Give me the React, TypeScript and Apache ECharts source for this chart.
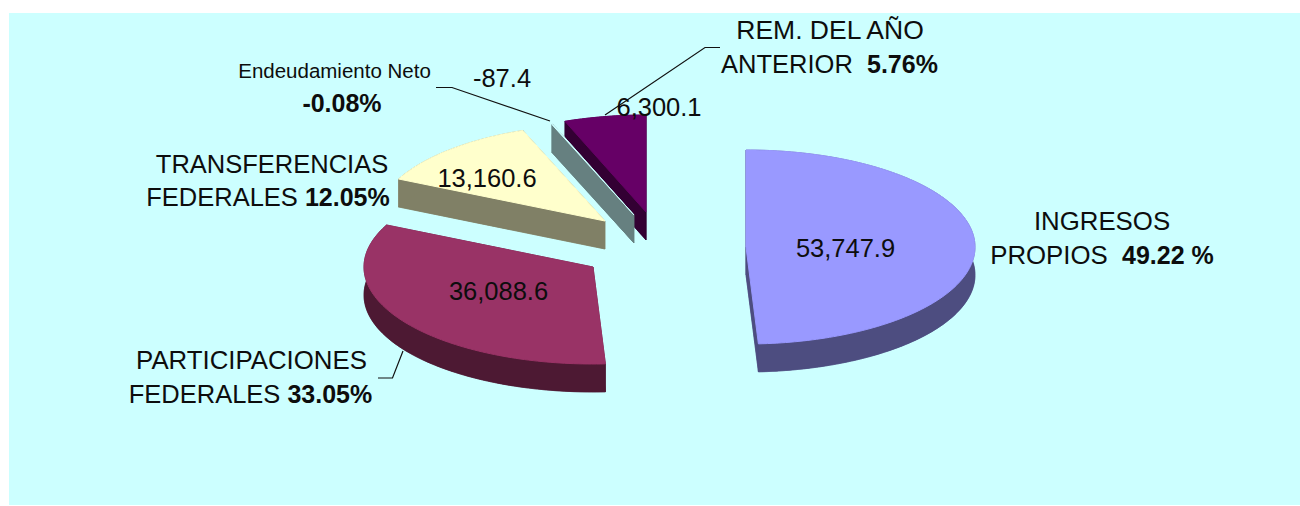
import React, { useEffect, useRef } from "react";
import * as echarts from "echarts";

// ---- data (clockwise from 12 o'clock) ----
const sliceNames = ["INGRESOS PROPIOS", "PARTICIPACIONES FEDERALES", "TRANSFERENCIAS FEDERALES", "Endeudamiento Neto", "REM. DEL AÑO ANTERIOR"];
const sliceValues = [53747.9, 36088.6, 13160.6, -87.4, 6300.1];
const slicePercents = ["49.22 %", "33.05%", "12.05%", "-0.08%", "5.76%"];

// ---- styles and layout ----
const topColors = ["#9999FF", "#993366", "#FFFFCC", "#CCFFFF", "#660066"];
const sideColors = ["#4D4D80", "#4D1933", "#808066", "#668080", "#330033"];
const apexes = [[746, 247], [593, 267], [605, 221], [634, 215], [646, 212]];
const RX = 229, RY = 97, DEPTH = 28;
const drawOrder = [4, 3, 2, 1, 0];
const FONT = "'Liberation Sans', Arial, sans-serif";
const valuePositions = [[845.5, 248], [498.5, 291], [487, 178], [502, 78], [659, 107]];
const leaders = [
  [[605, 115], [705, 47.5], [720, 47.5]],
  [[403, 351], [392.5, 378], [378, 378]],
  [[436, 87.5], [452, 87.5], [550, 121]],
];

function fmt(v: number) {
  return v.toLocaleString("en-US", { minimumFractionDigits: 1, maximumFractionDigits: 1 });
}

function sliceGeometry(i: number) {
  const total = sliceValues.reduce((s, v) => s + Math.abs(v), 0);
  let before = 0;
  for (let k = 0; k < i; k++) before += Math.abs(sliceValues[k]);
  const a0 = (before / total) * Math.PI * 2;
  const a1 = ((before + Math.abs(sliceValues[i])) / total) * Math.PI * 2;
  const [cx, cy] = apexes[i];
  const steps = Math.max(2, Math.ceil((a1 - a0) / 0.02));
  const arc: number[][] = [];
  for (let s = 0; s <= steps; s++) {
    const a = a0 + ((a1 - a0) * s) / steps;
    arc.push([cx + RX * Math.sin(a), cy - RY * Math.cos(a)]);
  }
  return { arc, apex: [cx, cy] };
}

const down = (p: number[]) => [p[0], p[1] + DEPTH];

function renderSlice(_: any, api: any) {
  const i = api.value(0) as number;
  const { arc, apex } = sliceGeometry(i);
  const top = [apex, ...arc];
  const first = arc[0];
  const last = arc[arc.length - 1];
  const side = { fill: sideColors[i], stroke: sideColors[i], lineWidth: 0.5 };
  const poly = (points: number[][], style: any) => ({ type: "polygon", shape: { points }, style });
  return {
    type: "group",
    children: [
      poly(top.map(down), side),
      poly([apex, first, down(first), down(apex)], side),
      poly([apex, last, down(last), down(apex)], side),
      poly([...arc, ...arc.slice().reverse().map(down)], side),
      poly(top, { fill: topColors[i], stroke: topColors[i], lineWidth: 1 }),
    ],
  };
}

const darkText = "#0d0d0d";

function text(x: number, y: number, str: string, align: string, size = 25.5, rich?: any) {
  return {
    type: "text",
    x,
    y,
    z: 20,
    style: {
      text: str,
      align,
      verticalAlign: "middle",
      fontFamily: FONT,
      fontSize: size,
      fill: darkText,
      rich,
    },
  };
}

const boldRich = { b: { fontFamily: FONT, fontSize: 25, fontWeight: "bold", fill: darkText } };

export default function App() {
  const ref = useRef<HTMLDivElement>(null);
  useEffect(() => {
    document.body.style.margin = "0";
    const chart = echarts.init(ref.current!, undefined, { renderer: "svg" });
    chart.setOption({
      animation: false,
      backgroundColor: "#ffffff",
      graphic: [
        { type: "rect", z: -10, shape: { x: 9, y: 13, width: 1291, height: 492 }, style: { fill: "#CCFFFF" } },
        ...leaders.map((points) => ({
          type: "polyline",
          z: 15,
          shape: { points },
          style: { stroke: "#111111", lineWidth: 1.2, fill: "none" },
        })),
        text(830, 30, "REM. DEL AÑO", "center", 26.5),
        text(829.5, 64, `ANTERIOR  {b|${slicePercents[4]}}`, "center", 25.5, boldRich),
        text(334.5, 70, sliceNames[3], "center", 20.5),
        text(342, 103, `{b|${slicePercents[3]}}`, "center", 25, boldRich),
        text(272, 164, "TRANSFERENCIAS", "center"),
        text(268, 197, `FEDERALES {b|${slicePercents[2]}}`, "center", 25.5, boldRich),
        text(251.5, 360, "PARTICIPACIONES", "center", 25.8),
        text(250.5, 394, `FEDERALES {b|${slicePercents[1]}}`, "center", 25.5, boldRich),
        text(1102, 221, "INGRESOS", "center", 25.8),
        text(1102, 255, `PROPIOS  {b|${slicePercents[0]}}`, "center", 25.8, boldRich),
        ...sliceValues.map((v, i) => text(valuePositions[i][0], valuePositions[i][1], fmt(v), "center")),
      ],
      series: [
        {
          type: "custom",
          coordinateSystem: "none",
          renderItem: renderSlice,
          data: drawOrder.map((i) => ({ name: sliceNames[i], value: [i, sliceValues[i]] })),
          silent: true,
          z: 2,
        },
      ],
    });
    return () => chart.dispose();
  }, []);
  return <div ref={ref} style={{ width: 1300, height: 506 }} />;
}
